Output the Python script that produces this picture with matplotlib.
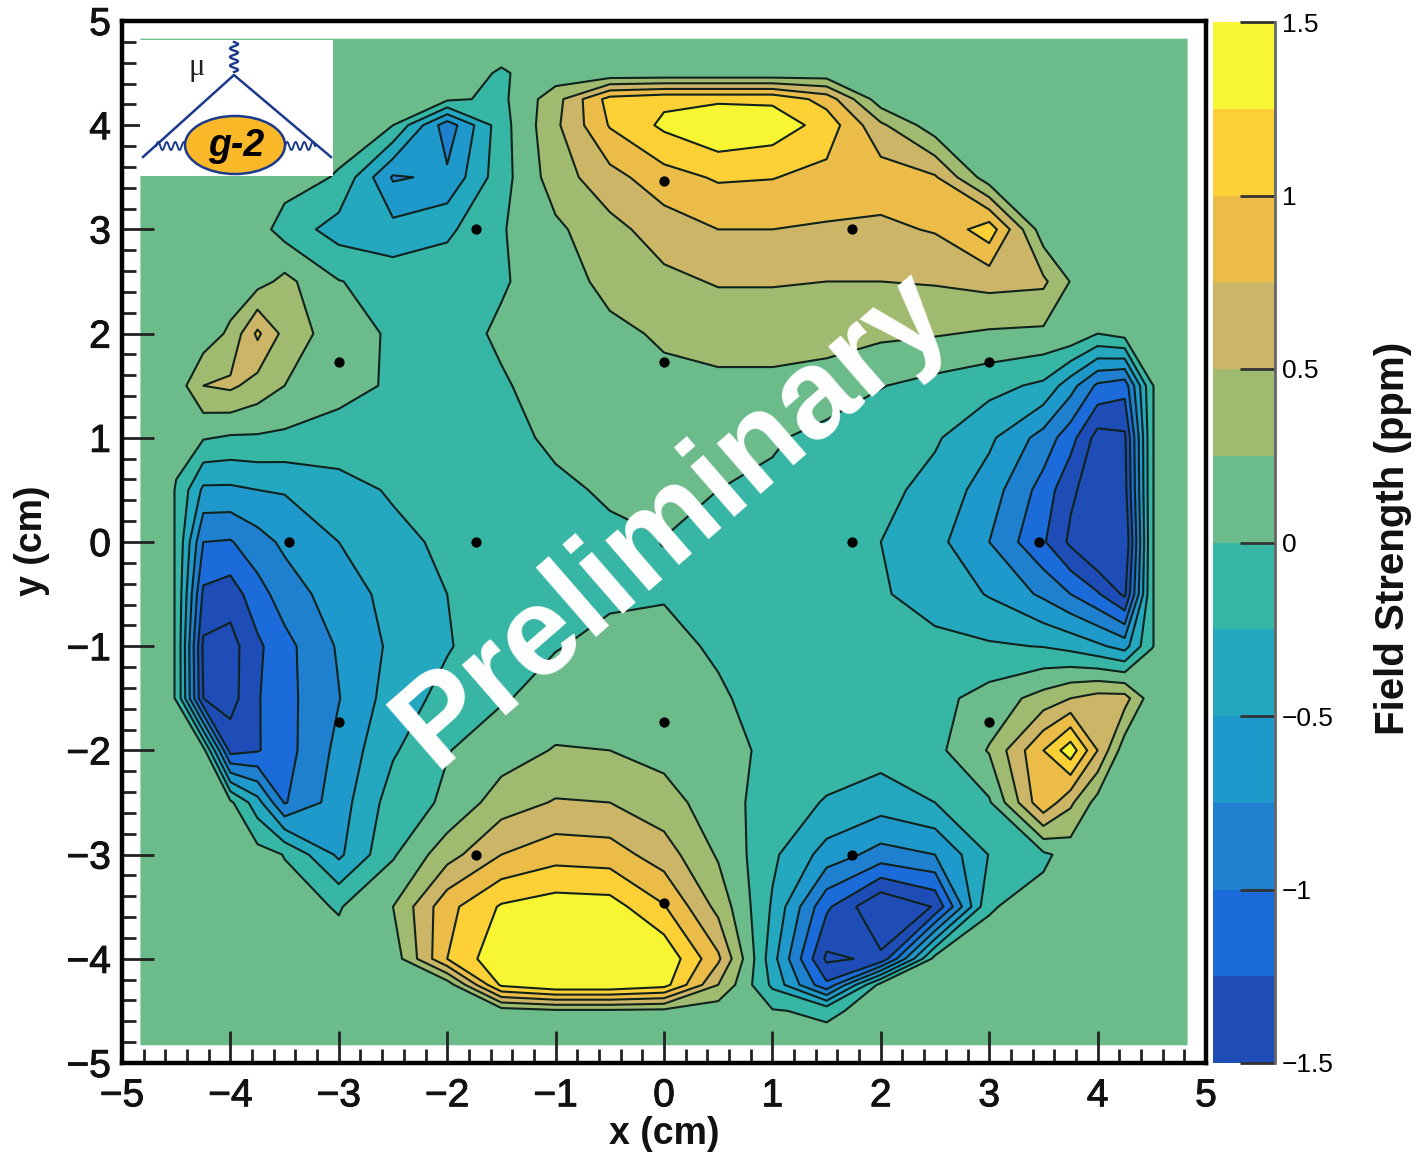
import numpy as np
import matplotlib
matplotlib.use("Agg")
import matplotlib.pyplot as plt
import matplotlib.patheffects as pe
from matplotlib.colors import ListedColormap, BoundaryNorm
from matplotlib.patches import Ellipse, Rectangle

W, H = 1428, 1160
plt.rcParams['font.family'] = ['Liberation Sans', 'DejaVu Sans']

BACKGROUND = 0.1
x_nodes = [-4.5,-4.25,-4,-3.75,-3.5,-3,-2.5,-2,-1.5,-1,-.5,0,.5,1,1.5,2,2.5,3,3.5,3.75,4,4.25,4.5]
y_nodes = [4.5,4.25,4,3.5,3,2.5,2,1.5,1,.5,0,-.5,-1,-1.5,-2,-2.5,-3,-3.5,-4,-4.25,-4.5]
EDGE = 4.83

z_p450 = [.1,.1,.1,.1,.1,.1,.1,.1,-.02,.1,.05,.05,.05,.05,.08,.1,.1,.1,.1,.1,.1,.1,.1]
z_p425 = [.1,.1,.1,.1,.1,.1,.1,.05,-.06,.4,1.1,1.2,1.2,1.2,.9,.1,.1,.1,.1,.1,.1,.1,.1]
z_p400 = [.1,.1,.1,.1,.1,.1,0,-.9,-.1,.45,1.02,1.3,1.48,1.4,1.15,.55,.1,.1,.1,.1,.1,.1,.1]
z_p350 = [.1,.1,.1,.1,.1,-.02,-.78,-.7,-.1,.38,.66,.9,1.03,1.01,.92,.88,.78,.1,.1,.1,.1,.1,.1]
z_p300 = [.1,.1,.1,.1,-.1,-.36,-.42,-.3,-.02,.2,.42,.62,.75,.75,.72,.7,.77,1.15,.1,.1,.1,.1,.1]
z_p250 = [.1,.1,.1,.15,.32,.01,-.1,-.1,-.02,.1,.34,.44,.52,.52,.5,.5,.52,.58,.55,.24,.1,.1,.1]
z_p200 = [.1,.1,.3,.8,.42,.1,-.03,-.08,.03,.12,.18,.29,.34,.34,.34,.3,.27,.22,.2,.2,.0,.1,.1]
z_p150 = [.1,.5,.55,.4,.25,.08,-.03,-.08,-.02,.08,.12,.18,.2,.2,.15,.01,-.08,-.17,-.3,-.65,-1.05,-1.15,-.005]
z_p100 = [.02,.02,-.03,-.03,-.05,-.1,-.1,-.1,-.05,.03,.08,.1,.08,.03,-.08,-.15,-.22,-.45,-.85,-1.15,-1.6,-1.55,-.005]
z_p050 = [-.005,-.55,-.55,-.5,-.48,-.35,-.22,-.12,-.1,-.03,.02,.05,.0,-.05,-.12,-.18,-.33,-.62,-1.1,-1.45,-1.65,-1.6,-.005]
z_000 = [-.005,-1.0,-1.02,-.85,-.7,-.5,-.32,-.2,-.1,-.07,-.03,-.005,-.05,-.08,-.15,-.25,-.42,-.75,-1.22,-1.55,-1.85,-1.75,-.005]
z_m050 = [-.005,-1.3,-1.38,-1.1,-.88,-.62,-.42,-.25,-.12,-.07,-.03,-.01,-.04,-.08,-.1,-.23,-.33,-.52,-.8,-1.0,-1.22,-1.55,-.005]
z_m100 = [-.005,-1.55,-1.6,-1.3,-1.08,-.72,-.45,-.27,-.1,-.01,.05,.04,-.02,-.08,-.12,-.15,-.2,-.22,-.26,-.33,-.45,-.6,-.005]
z_m150 = [-.005,-1.5,-1.6,-1.27,-1.08,-.76,-.38,-.17,-.02,.08,.15,.15,.02,-.06,-.1,-.1,-.08,.1,.35,.5,.6,.6,.1]
z_m200 = [.1,.1,-1.35,-1.27,-1.1,-.68,-.28,-.01,.12,.27,.25,.17,.08,-.05,-.12,-.15,-.07,.27,1.0,1.4,.75,.1,.1]
z_m250 = [.1,.1,.05,-.4,-1.02,-.62,-.13,.04,.38,.52,.5,.35,.12,-.12,-.27,-.38,-.25,-.03,.95,.55,.15,.1,.1]
z_m300 = [.1,.1,.1,.1,-.01,-.55,-.03,.4,.75,.9,.87,.62,.22,-.2,-.6,-.85,-.75,-.24,-.05,.1,.1,.1,.1]
z_m350 = [.1,.1,.1,.1,.1,-.02,.25,.92,1.28,1.38,1.36,1.02,.42,-.28,-1.2,-1.75,-1.48,-.02,.1,.1,.1,.1,.1]
z_m400 = [.1,.1,.1,.1,.1,.1,.1,1.0,1.45,1.48,1.48,1.45,.8,-.4,-1.55,-1.45,.1,.1,.1,.1,.1,.1,.1]
z_m425 = [.1,.1,.1,.1,.1,.1,.1,.1,1.3,1.48,1.48,1.35,.5,-.3,-1.2,.1,.1,.1,.1,.1,.1,.1,.1]
z_m450 = [.1,.1,.1,.1,.1,.1,.1,.1,.12,.2,.2,.18,.1,.02,-.05,.1,.1,.1,.1,.1,.1,.1,.1]

levels = [-1.5,-1.25,-1,-.75,-.5,-.25,0,.25,.5,.75,1,1.25,1.5]
band_colors = ['#1F4DB8','#1B6BDB','#2080D0','#1F99CC','#24A8BF','#38B6A5',
               '#6CBB8A','#A0BB70','#CDB568','#EBBC48','#FDD035','#F8F533']
probe_x = [0,1.73,3,3.46,3,1.73,0,-1.73,-3,-3.46,-3,-1.73,0,1.73,0,-1.73,0]
probe_y = [3.46,3,1.73,0,-1.73,-3,-3.46,-3,-1.73,0,1.73,3,1.73,0,-1.73,0,0]
cbar_ticks = [-1.5,-1,-.5,0,.5,1,1.5]
cbar_labels = ['\u22121.5','\u22121','\u22120.5','0','0.5','1','1.5']
axis_ticks = [-5,-4,-3,-2,-1,0,1,2,3,4,5]
axis_labels = ['\u22125','\u22124','\u22123','\u22122','\u22121','0','1','2','3','4','5']

rows = [z_p450,z_p425,z_p400,z_p350,z_p300,z_p250,z_p200,z_p150,z_p100,z_p050,z_000,
        z_m050,z_m100,z_m150,z_m200,z_m250,z_m300,z_m350,z_m400,z_m425,z_m450]
Z = np.pad(np.array(rows), 1, constant_values=BACKGROUND)
X = np.array([-EDGE] + x_nodes + [EDGE])
Y = np.array([EDGE] + y_nodes + [-EDGE])

def box(l, t, r, b):
    return [l/W, 1-b/H, (r-l)/W, (b-t)/H]

heavy = [pe.withStroke(linewidth=0.7, foreground='#111111')]

fig = plt.figure(figsize=(W/100, H/100), dpi=100, facecolor='white')
ax = fig.add_axes(box(122, 21, 1206, 1063))
cmap = ListedColormap(band_colors)
cmap.set_under(band_colors[0]); cmap.set_over(band_colors[-1])
norm = BoundaryNorm(levels, cmap.N)
ax.contourf(X, Y, Z, levels=levels, cmap=cmap, norm=norm, extend='both', antialiased=True)
ax.contour(X, Y, Z, levels=levels, colors='#10221c', linewidths=1.5, linestyles='solid')
ax.scatter(probe_x, probe_y, s=55, color='black', zorder=5, linewidths=0)
ax.set_xlim(-5, 5); ax.set_ylim(-5, 5)
ax.set_xticks(axis_ticks); ax.set_xticklabels(axis_labels)
ax.set_yticks(axis_ticks); ax.set_yticklabels(axis_labels)
ax.set_xticks(np.arange(-50, 51, 2)/10, minor=True)
ax.set_yticks(np.arange(-50, 51, 2)/10, minor=True)
ax.tick_params(which='major', direction='in', length=23, width=2, color='#222222',
               labelsize=28, top=False, right=False)
ax.tick_params(axis='x', which='major', pad=11)
ax.tick_params(axis='y', which='major', pad=8)
ax.tick_params(which='minor', direction='in', length=10, width=2, color='#222222',
               top=False, right=False)
for lab in ax.get_xticklabels() + ax.get_yticklabels():
    lab.set_path_effects(heavy); lab.set_color('#111111')
for s in ax.spines.values():
    s.set_linewidth(3.2); s.set_zorder(7)
fig.text(664/W, 1-1134/H, 'x (cm)', fontsize=27, fontweight='bold', ha='center', va='center', color='#111111')
fig.text(32/W, 1-541/H, 'y (cm)', fontsize=27, fontweight='bold', ha='center', va='center', rotation=90, color='#111111')

ax.text(0.08, 0.22, 'Preliminary', color='white', fontsize=91, fontweight='bold', rotation=41,
        rotation_mode='anchor', ha='center', va='center', zorder=8)

# colour bar
cax = fig.add_axes(box(1213, 22, 1275, 1063))
for lo, hi, c in zip(levels[:-1], levels[1:], band_colors):
    cax.barh((lo+hi)/2, 1, height=hi-lo, left=0, color=c, linewidth=0)
cax.set_xlim(0, 1); cax.set_ylim(-1.5, 1.5)
cax.set_xticks([])
cax.yaxis.tick_right()
cax.set_yticks(cbar_ticks); cax.set_yticklabels(cbar_labels)
cax.tick_params(direction='in', length=25, width=2, color='#333333', labelsize=19, pad=5)
for k, s in cax.spines.items():
    s.set_visible(k == 'right')
cax.spines['right'].set_linewidth(2); cax.spines['right'].set_color('#666666')
fig.text(1393/W, 1-538/H, 'Field Strength (ppm)', fontsize=29, fontweight='bold', rotation=90,
         ha='center', va='center', color='#111111')

# g-2 logo
lg = fig.add_axes(box(140, 40, 333, 176), zorder=9)
lg.set_xlim(140, 333); lg.set_ylim(176, 40); lg.axis('off')
lg.add_patch(Rectangle((140, 40), 193, 136, color='white', lw=0))
navy = '#1B3A8C'
lg.plot([143, 234, 331], [157, 75, 157], color=navy, lw=1.8)
lg.add_patch(Ellipse((235, 145), 100, 58, facecolor='#FBB829', edgecolor=navy, lw=1.8, zorder=3))
t = np.linspace(0, 1, 120)
lg.plot(234+4*np.sin(t*2*np.pi*3.5), 42+30*t, color=navy, lw=1.7)
lg.plot(156+30*t, 146-4*np.sin(t*2*np.pi*3.5), color=navy, lw=1.4)
lg.plot(285+30*t, 146-4*np.sin(t*2*np.pi*3.5), color=navy, lw=1.4)
lg.text(236, 146, 'g-2', fontsize=27, fontweight='bold', style='italic', ha='center', va='center',
        color='black', zorder=4)
lg.text(197, 68, '\u03bc', fontsize=22, family='Liberation Serif', ha='center', va='center', color='#222222')

fig.savefig('out.png', dpi=100, facecolor='white')
